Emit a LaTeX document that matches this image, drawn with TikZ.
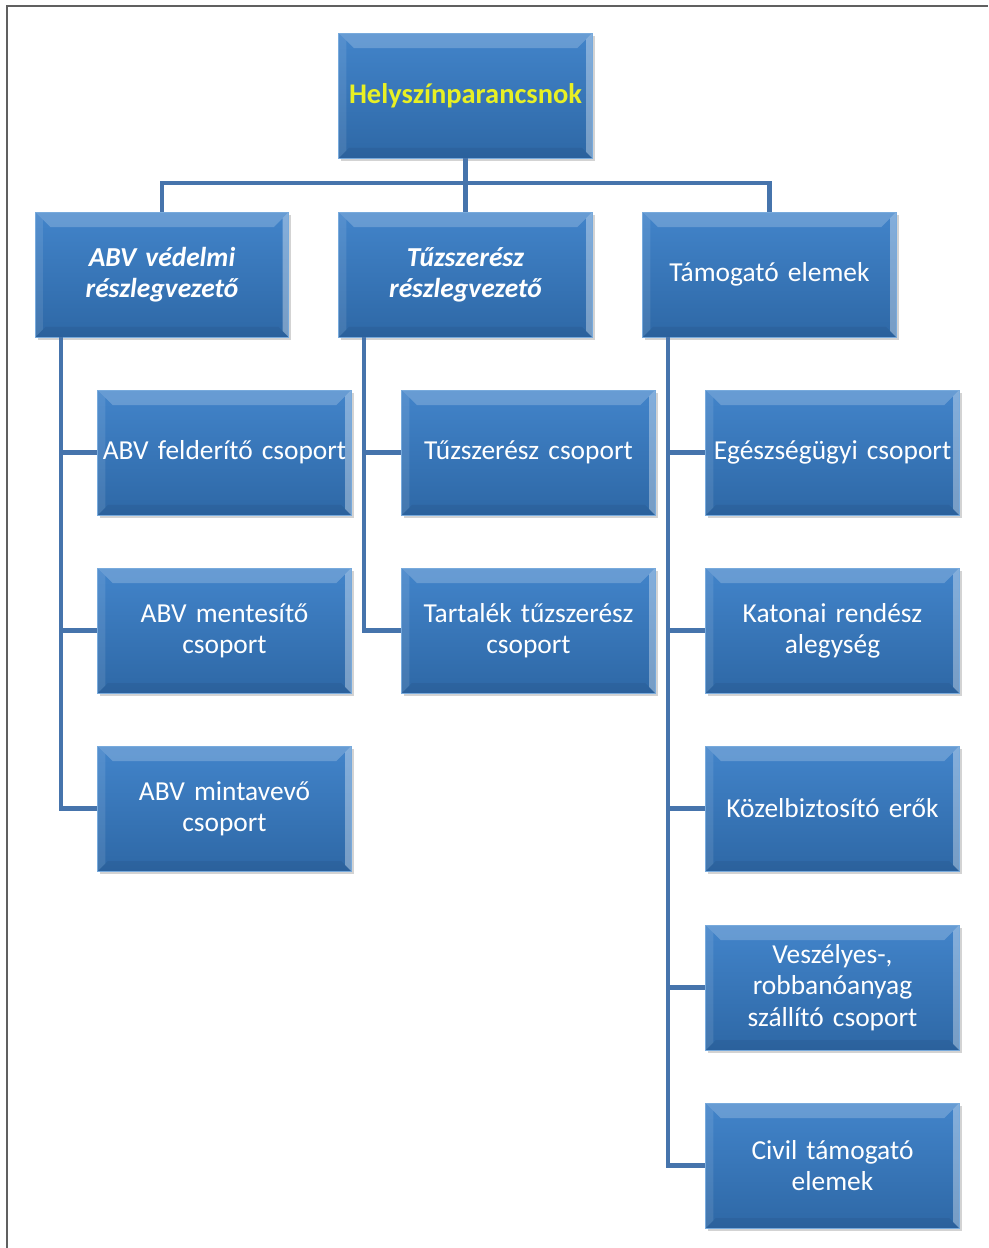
\documentclass[tikz,border=0pt]{standalone}
\usepackage{fontspec}
\setmainfont[WordSpace=0.7]{Carlito}
\usetikzlibrary{shadows}

\definecolor{boxtop}{RGB}{66,132,202}
\definecolor{boxbot}{RGB}{46,104,166}
\definecolor{boxedge}{RGB}{120,170,220}
\definecolor{linkblue}{RGB}{70,116,172}
\definecolor{chiefyellow}{RGB}{232,240,36}

\tikzset{
  unitbox/.style={rectangle, minimum width=5.02cm, minimum height=2.5cm,
    inner sep=1pt, text width=5cm, align=center, text=white,
    top color=boxtop, bottom color=boxbot, draw=boxedge, line width=0.5pt,
    font=\fontsize{15.6}{17.8}\selectfont,
    drop shadow={shadow xshift=0.05cm, shadow yshift=-0.06cm, opacity=0.35},
    path picture={
      % bevel: light top and right, darker bottom
      \fill[white, opacity=0.2] (path picture bounding box.north west) -- (path picture bounding box.north east)
        -- ([shift={(-0.3cm,-0.3cm)}]path picture bounding box.north east)
        -- ([shift={(0.3cm,-0.3cm)}]path picture bounding box.north west) -- cycle;
      \fill[white, opacity=0.35] (path picture bounding box.north east) -- (path picture bounding box.south east)
        -- ([shift={(-0.12cm,0.12cm)}]path picture bounding box.south east)
        -- ([shift={(-0.12cm,-0.12cm)}]path picture bounding box.north east) -- cycle;
      \fill[white, opacity=0.10] (path picture bounding box.north west) -- (path picture bounding box.south west)
        -- ([shift={(0.15cm,0.15cm)}]path picture bounding box.south west)
        -- ([shift={(0.15cm,-0.15cm)}]path picture bounding box.north west) -- cycle;
      \fill[black, opacity=0.06] (path picture bounding box.south west) -- (path picture bounding box.south east)
        -- ([shift={(-0.2cm,0.2cm)}]path picture bounding box.south east)
        -- ([shift={(0.2cm,0.2cm)}]path picture bounding box.south west) -- cycle;
    }},
  headbox/.style={unitbox, text=chiefyellow, font=\fontsize{16.2}{18.5}\selectfont\bfseries},
  leadbox/.style={unitbox, font=\fontsize{15.6}{17.8}\selectfont\bfseries\itshape},
  link/.style={draw=linkblue, line width=2.3pt}
}

\begin{document}
\begin{tikzpicture}[x=0.02cm, y=-0.02cm]
  \useasboundingbox (0,0) rectangle (988,1248);

  % outer frame (left and top only)
  \draw[gray!75!black, line width=1.1pt] (7,1248) -- (7,6) -- (988,6);

  % commander
  \node[headbox] (chief) at (465.5,95.5) {Helyszínparancsnok};

  % second level
  \node[leadbox] (abv) at (162,274.5) {ABV védelmi\\részlegvezető};
  \node[leadbox] (tuz) at (465.5,274.5) {Tűzszerész\\részlegvezető};
  \node[unitbox] (tam) at (769.5,274.5) {Támogató elemek};

  % ABV groups
  \node[unitbox] (abvfel) at (224.5,452.5) {ABV felderítő csoport};
  \node[unitbox] (abvmen) at (224.5,630.5) {ABV mentesítő\\csoport};
  \node[unitbox] (abvmin) at (224.5,808.5) {ABV mintavevő\\csoport};

  % EOD groups
  \node[unitbox] (tuzcs) at (528.5,452.5) {Tűzszerész csoport};
  \node[unitbox] (tuztar) at (528.5,630.5) {Tartalék tűzszerész\\csoport};

  % support elements
  \node[unitbox] (egesz) at (832.5,452.5) {Egészségügyi csoport};
  \node[unitbox] (katona) at (832.5,630.5) {Katonai rendész\\alegység};
  \node[unitbox] (kozel) at (832.5,808.5) {Közelbiztosító erők};
  \node[unitbox] (veszely) at (832.5,987.5) {Veszélyes-,\\robbanóanyag\\szállító csoport};
  \node[unitbox] (civil) at (832.5,1165.5) {Civil támogató\\elemek};

  % connectors from commander
  \draw[link] (chief.south) -- ++(0,25) -| (abv.north);
  \draw[link] (chief.south) -- ++(0,25) -| (tam.north);
  \draw[link] (chief.south) -- (tuz.north);

  % connectors down the left sides
  \foreach \c in {abvfel,abvmen,abvmin}
    \draw[link] ([xshift=0.52cm]abv.south west) |- (\c.west);
  \foreach \c in {tuzcs,tuztar}
    \draw[link] ([xshift=0.52cm]tuz.south west) |- (\c.west);
  \foreach \c in {egesz,katona,kozel,veszely,civil}
    \draw[link] ([xshift=0.52cm]tam.south west) |- (\c.west);
\end{tikzpicture}
\end{document}
